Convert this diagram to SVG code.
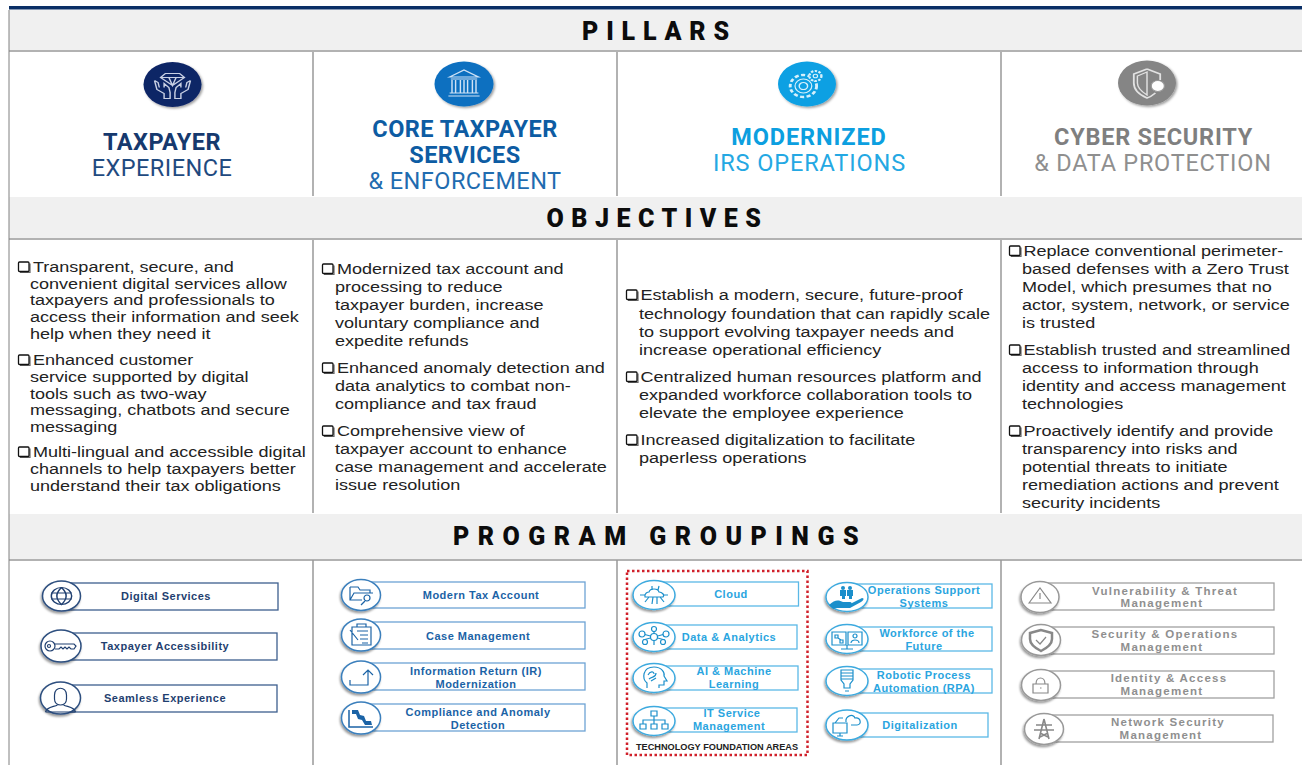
<svg xmlns="http://www.w3.org/2000/svg" width="1302" height="765" viewBox="0 0 1302 765">
<defs>
<filter id="sh" x="-20%" y="-20%" width="150%" height="150%"><feDropShadow dx="1.500" dy="1.500" stdDeviation="1" flood-color="#000" flood-opacity=".38"/></filter>
<filter id="sl" x="-25%" y="-25%" width="150%" height="150%"><feDropShadow dx="-1" dy="2" stdDeviation="1.200" flood-color="#000" flood-opacity=".4"/></filter>
<g id="b"><path d="M1.500 10.500H11.500V1.500" fill="none" stroke="#666" stroke-width="1.200"/><rect width="10.500" height="9.500" rx="1" fill="#fff" stroke="#111" stroke-width="1.300"/></g>
</defs>
<style>
text{font-family:"Liberation Sans",Arial,sans-serif}
.hd{font-family:Roboto,"Liberation Sans",sans-serif;font-weight:900;font-size:25px;text-anchor:middle;fill:#0c0c0c}
.band{fill:#f0f0f0}
.rule{stroke:#999;stroke-width:1.500;fill:none}
.pb{font-family:Roboto,"Liberation Sans",sans-serif;font-weight:700;font-size:23.500px;text-anchor:middle}
.pl{font-family:Roboto,"Liberation Sans",sans-serif;font-size:23.500px;text-anchor:middle}
.s1{letter-spacing:.45px}.s2{letter-spacing:.45px}.s3{letter-spacing:.9px}.s4{letter-spacing:.75px}
.ob{font-size:15.500px;fill:#222}
.pt{font-weight:700;font-size:11px;text-anchor:middle;letter-spacing:.5px}
.g .pt{font-size:11.500px;letter-spacing:1.250px}
.box{fill:#fff;stroke-width:1.300}
.circ{fill:#fff;stroke-width:1.500;filter:url(#sl)}
.i{fill:none;stroke-width:1.200}
.a{stroke:#3d5f8e}.b{stroke:#6da3d4}.c{stroke:#5bb8e6}.d{stroke:#a0a0a0}
.ca{stroke:#2d4f7f}.cb{stroke:#3b7fbc}.cc{stroke:#3eaadf}.cd{stroke:#999}
.ia{stroke:#1f3f70}.ib{stroke:#1b63a6}.ic{stroke:#1b8fcb}.id{stroke:#888}
.t1{fill:#1f3f70}.t2{fill:#1b63a6}.t3{fill:#2aa5e0}.t4{fill:#8f8f8f}
</style>
<g id="frame">
<rect x="9" y="6" width="1293" height="3.500" fill="#0a2f66"/>
<rect class="band" x="9" y="10" width="1293" height="40"/>
<rect class="band" x="9" y="197" width="1293" height="41"/>
<rect class="band" x="9" y="514" width="1293" height="45"/>
<path class="rule" d="M9 51H1302M9 239H1302M9 560H1302M313 52V196M617 52V196M1001 52V196M313 240V513M617 240V513M1001 240V513M313 560V765M617 560V765M1001 560V765"/>
<path d="M9 10V765" stroke="#808080" stroke-width="1" fill="none"/>
</g>
<g id="headers">
<text class="hd" x="659.500" y="40" letter-spacing="7.800">PILLARS</text>
<text class="hd" x="657.500" y="227" letter-spacing="7.500">OBJECTIVES</text>
<text class="hd" x="660" y="545" letter-spacing="8.500">PROGRAM GROUPINGS</text>
</g>
<g id="pillar-taxpayer">
<ellipse cx="172.500" cy="84.500" rx="29" ry="22.500" fill="#0c2566" filter="url(#sh)"/>
<g transform="translate(172.500 84.500) scale(1.200 1)" fill="none" stroke="#c8d0e4" stroke-width="1.200">
<path d="M-6-11H6L10-7 0 1-10-7ZM-10-7H10M-3-7 0 1 3-7"/>
<path d="M-15-4-13 5-7 9V14H-2V8L-3 3-7-1-7 3M-15-4-12-2-11 3"/>
<path d="M15-4 13 5 7 9V14H2V8L3 3 7-1 7 3M15-4 12-2 11 3"/>
</g>
<text class="pb s1" x="162" y="150" fill="#16396e">TAXPAYER</text>
<text class="pl s1" x="162" y="176" fill="#1f4a80">EXPERIENCE</text>
</g>
<g id="pillar-core">
<ellipse cx="464" cy="84" rx="29.500" ry="22.500" fill="#0f6fc0" filter="url(#sh)"/>
<g transform="translate(464 84) scale(1.200 1)" fill="none" stroke="#cfe2f5" stroke-width="1.200">
<path d="M-12-7 0-14 12-7ZM-11-5H11M-10-4V9M-7-4V9M-3-4V9M0-4V9M3-4V9M7-4V9M10-4V9M-12 9H12M-13 12H13"/>
</g>
<text class="pb s2" x="465" y="137" fill="#0d5ca3">CORE TAXPAYER</text>
<text class="pb s2" x="465" y="163" fill="#0d5ca3">SERVICES</text>
<text class="pl s2" x="465" y="189" fill="#1f6cb0">&amp; ENFORCEMENT</text>
</g>
<g id="pillar-modern">
<ellipse cx="807" cy="84" rx="29" ry="22.500" fill="#0fa0e3" filter="url(#sh)"/>
<g transform="translate(807 84) scale(1.200 1)" fill="none" stroke="#d6f0fb">
<circle cx="-3" cy="2" r="11" stroke-width="2.400" stroke-dasharray="3.500 2"/>
<circle cx="-3" cy="2" r="7" stroke-width="1"/>
<circle cx="-3" cy="2" r="3.500" stroke-width="1.200"/>
<circle cx="7" cy="-8" r="5" fill="#0fa0e3" stroke-width="2" stroke-dasharray="2 1.200"/>
<circle cx="7" cy="-8" r="1.800" stroke-width="1"/>
</g>
<text class="pb s3" x="809" y="145" fill="#0c9fe0">MODERNIZED</text>
<text class="pl s3" x="809.500" y="171" fill="#24a8e3">IRS OPERATIONS</text>
</g>
<g id="pillar-cyber">
<ellipse cx="1147" cy="83" rx="29" ry="22.500" fill="#858585" filter="url(#sh)"/>
<g transform="translate(1147 83) scale(1.200 1)">
<path d="M0-14-11-9V0C-11 7-6 12 0 15 3 14 5 12 7 10M0-14 11-9V-3" fill="none" stroke="#e2e2e2" stroke-width="1.500"/>
<path d="M0-11-8-7V0C-8 5-4 9 0 12Z" fill="none" stroke="#e2e2e2" stroke-width="1.200"/>
<circle cx="9" cy="3" r="5.500" fill="#fff" stroke="#999"/>
</g>
<text class="pb s4" x="1153.500" y="145" fill="#7f7f7f">CYBER SECURITY</text>
<text class="pl s4" x="1153" y="171" fill="#8f8f8f">&amp; DATA PROTECTION</text>
</g>
<g id="objectives-taxpayer">
<use href="#b" x="18.500" y="262"/><use href="#b" x="18.500" y="355"/><use href="#b" x="18.500" y="447"/>
<g transform="translate(30 0) scale(1.165 1)">
<text class="ob" x="2.500" y="272">Transparent, secure, and</text>
<text class="ob" x="0" y="289">convenient digital services allow</text>
<text class="ob" x="0" y="305">taxpayers and professionals to</text>
<text class="ob" x="0" y="322">access their information and seek</text>
<text class="ob" x="0" y="339">help when they need it</text>
<text class="ob" x="2.500" y="365">Enhanced customer</text>
<text class="ob" x="0" y="382">service supported by digital</text>
<text class="ob" x="0" y="399">tools such as two-way</text>
<text class="ob" x="0" y="415">messaging, chatbots and secure</text>
<text class="ob" x="0" y="432">messaging</text>
<text class="ob" x="2.500" y="457">Multi-lingual and accessible digital</text>
<text class="ob" x="0" y="474">channels to help taxpayers better</text>
<text class="ob" x="0" y="491">understand their tax obligations</text>
</g>
</g>
<g id="objectives-core">
<use href="#b" x="322.500" y="264"/><use href="#b" x="322.500" y="363"/><use href="#b" x="322.500" y="426"/>
<g transform="translate(335 0) scale(1.165 1)">
<text class="ob" x="1.700" y="274">Modernized tax account and</text>
<text class="ob" x="0" y="292">processing to reduce</text>
<text class="ob" x="0" y="310">taxpayer burden, increase</text>
<text class="ob" x="0" y="328">voluntary compliance and</text>
<text class="ob" x="0" y="346">expedite refunds</text>
<text class="ob" x="1.700" y="373">Enhanced anomaly detection and</text>
<text class="ob" x="0" y="391">data analytics to combat non-</text>
<text class="ob" x="0" y="409">compliance and tax fraud</text>
<text class="ob" x="1.700" y="436">Comprehensive view of</text>
<text class="ob" x="0" y="454">taxpayer account to enhance</text>
<text class="ob" x="0" y="472">case management and accelerate</text>
<text class="ob" x="0" y="490">issue resolution</text>
</g>
</g>
<g id="objectives-modern">
<use href="#b" x="626.500" y="290"/><use href="#b" x="626.500" y="372"/><use href="#b" x="626.500" y="435"/>
<g transform="translate(639 0) scale(1.165 1)">
<text class="ob" x="1.300" y="300">Establish a modern, secure, future-proof</text>
<text class="ob" x="0" y="319">technology foundation that can rapidly scale</text>
<text class="ob" x="0" y="337">to support evolving taxpayer needs and</text>
<text class="ob" x="0" y="355">increase operational efficiency</text>
<text class="ob" x="1.300" y="382">Centralized human resources platform and</text>
<text class="ob" x="0" y="400">expanded workforce collaboration tools to</text>
<text class="ob" x="0" y="418">elevate the employee experience</text>
<text class="ob" x="1.300" y="445">Increased digitalization to facilitate</text>
<text class="ob" x="0" y="463">paperless operations</text>
</g>
</g>
<g id="objectives-cyber">
<use href="#b" x="1009.500" y="246"/><use href="#b" x="1009.500" y="345"/><use href="#b" x="1009.500" y="426"/>
<g transform="translate(1022 0) scale(1.165 1)">
<text class="ob" x="1.300" y="256">Replace conventional perimeter-</text>
<text class="ob" x="0" y="274">based defenses with a Zero Trust</text>
<text class="ob" x="0" y="292">Model, which presumes that no</text>
<text class="ob" x="0" y="310">actor, system, network, or service</text>
<text class="ob" x="0" y="328">is trusted</text>
<text class="ob" x="1.300" y="355">Establish trusted and streamlined</text>
<text class="ob" x="0" y="373">access to information through</text>
<text class="ob" x="0" y="391">identity and access management</text>
<text class="ob" x="0" y="409">technologies</text>
<text class="ob" x="1.300" y="436">Proactively identify and provide</text>
<text class="ob" x="0" y="454">transparency into risks and</text>
<text class="ob" x="0" y="472">potential threats to initiate</text>
<text class="ob" x="0" y="490">remediation actions and prevent</text>
<text class="ob" x="0" y="508">security incidents</text>
</g>
</g>
<g id="programs-taxpayer">
<g id="p-digital"><rect class="box a" x="60" y="583" width="218" height="27"/><ellipse class="circ ca" cx="61.500" cy="596" rx="19" ry="15"/><g class="i ia" transform="translate(61.500 596) scale(1.200 1)"><circle r="8.500"/><path d="M-8.500-3H8.500M-8.500 3H8.500M0-8.500C-5-3-5 3 0 8.500 5 3 5-3 0-8.500"/></g><text class="pt t1" x="166" y="600">Digital Services</text></g>
<g id="p-access"><rect class="box a" x="60" y="633" width="217" height="27"/><ellipse class="circ ca" cx="61" cy="646" rx="20" ry="16"/><g class="i ia" transform="translate(61 646)" stroke-width="1.500"><circle cx="-11" cy="0" r="5"/><circle cx="-12" cy="0" r="1.500"/><path d="M-6-2H13L15 0 13 3H10L8 1 6 3 4 1 2 3 0 1-2 3H-6"/></g><text class="pt t1" x="165" y="650">Taxpayer Accessibility</text></g>
<g id="p-seamless"><rect class="box a" x="60" y="685" width="217" height="27"/><ellipse class="circ ca" cx="60.500" cy="698" rx="20" ry="16"/><g class="i ia" transform="translate(60.500 698)" stroke-width="1.500"><path d="M-6-3C-6-12 6-12 6-3V1C6 5 3 7 0 7S-6 5-6 1Z"/><path d="M-15 14C-14 9-7 9-3 7M15 14C14 9 7 9 3 7M-15 14H15"/></g><text class="pt t1" x="165" y="702">Seamless Experience</text></g>
</g>
<g id="programs-core">
<g id="p-modern-tax"><rect class="box b" x="361" y="582" width="224" height="26"/><ellipse class="circ cb" cx="361" cy="595" rx="19.500" ry="15.500"/><g class="i ib" transform="translate(361 595)"><path d="M-11-8H-3L-1-5H9V-2M-11-8V5H1M-11 5-7-2H12"/><circle cx="6" cy="3" r="3"/><path d="M4 6 0 10"/></g><text class="pt t2" x="481" y="599">Modern Tax Account</text></g>
<g id="p-case"><rect class="box b" x="361" y="622" width="224" height="27"/><ellipse class="circ cb" cx="361" cy="635" rx="19.500" ry="16"/><g class="i ib" transform="translate(361 635)"><path d="M-9-8H10V10H-9ZM-4-8V-11H5V-8M-4-4H7M-1 0H7M-1 4H7M1 8H7M-11-5-3 5"/></g><text class="pt t2" x="478" y="640">Case Management</text></g>
<g id="p-ir"><rect class="box b" x="361" y="663" width="224" height="27"/><ellipse class="circ cb" cx="361" cy="677" rx="19.500" ry="16"/><g class="i ib" transform="translate(361 677)" stroke-width="1.500"><path d="M-11 3V8H7V-7M2-2 7-7 12-2"/></g><text class="pt t2" x="476" y="675">Information Return (IR)</text><text class="pt t2" x="476" y="688">Modernization</text></g>
<g id="p-compliance"><rect class="box b" x="361" y="704" width="224" height="27"/><ellipse class="circ cb" cx="361" cy="718" rx="19.500" ry="16"/><g transform="translate(361 718)"><path d="M-12-8V9H12" fill="none" stroke="#1b63a6" stroke-width="1.500"/><path d="M-9-8H-3L-1-3 3-2 5 3H10L11 7H4L1 2-3 1-5-4-9-4Z" fill="#1b63a6"/></g><text class="pt t2" x="478" y="716">Compliance and Anomaly</text><text class="pt t2" x="478" y="729">Detection</text></g>
</g>
<g id="programs-modern">
<rect id="tech-foundation" x="627" y="571" width="180.500" height="184" fill="none" stroke="#d0202a" stroke-width="2.500" stroke-dasharray="2.500 2.500"/>
<g id="p-cloud"><rect class="box c" x="660" y="582" width="138.500" height="24"/><ellipse class="circ cc" cx="654" cy="595" rx="21" ry="14.500"/><g class="i ic" transform="translate(654 595)"><path d="M-9 2C-10-2-6-3-5-3-4-7 4-7 5-3 8-3 11 0 9 2ZM-5 2-9 7M-1 2-2 9M3 2 3 9M6 2 10 7M-2-5-2-9M4-5 5-9M-9 0H-14M9 0H14"/></g><text class="pt t3" x="731" y="598">Cloud</text></g>
<g id="p-data"><rect class="box c" x="660" y="625" width="137" height="24"/><ellipse class="circ cc" cx="654" cy="637" rx="21" ry="14.500"/><g class="i ic" transform="translate(654 637)"><path d="M0-8V8M-11-3 11 3M11-3-11 3"/><circle r="3.500" fill="#fff"/><circle cy="-8" r="2.500" fill="#fff"/><circle cx="-12" cy="-3" r="3" fill="#fff"/><circle cx="12" cy="-3" r="3" fill="#fff"/><circle cx="-9" cy="5" r="2.500" fill="#fff"/><circle cx="9" cy="5" r="2.500" fill="#fff"/></g><text class="pt t3" x="729" y="641">Data &amp; Analytics</text></g>
<g id="p-ai"><rect class="box c" x="660" y="666" width="138" height="24"/><ellipse class="circ cc" cx="654" cy="678" rx="21" ry="14.500"/><g class="i ic" transform="translate(654 678)" stroke-width="1.300"><path d="M-7 10V5C-12 1-12-11 0-11 8-11 11-5 10-2L13 3H10V7H5V10"/><path d="M-6-3C-4-7 0-7 0-4M-5 1C-2-2 2 0 2-5M-3 3 2 0"/></g><text class="pt t3" x="734" y="675">AI &amp; Machine</text><text class="pt t3" x="734" y="688">Learning</text></g>
<g id="p-it"><rect class="box c" x="660" y="708" width="137" height="24"/><ellipse class="circ cc" cx="654" cy="721" rx="21" ry="14.500"/><g class="i ic" transform="translate(654 721)"><path d="M-3-10H3V-5H-3ZM-14 3H-8V8H-14ZM-3 3H3V8H-3ZM8 3H14V8H8ZM0-5V3M-11 3V-1H11V3"/></g><text class="pt t3" x="732" y="717">IT Service</text><text class="pt t3" x="729" y="730">Management</text></g>
<text x="717" y="750" font-weight="700" font-size="9.200" text-anchor="middle" fill="#222">TECHNOLOGY FOUNDATION AREAS</text>
<g id="p-ops"><rect class="box c" x="850" y="584" width="142" height="24"/><ellipse class="circ cc" cx="847" cy="597" rx="21" ry="14.500"/><g transform="translate(847 597)" fill="#1b8fcb"><circle cx="-4" cy="-9" r="2"/><circle cx="3" cy="-9" r="2"/><path d="M-7-7H-1V-1H-2V2H-5V-1H-7ZM0-7H6V-1H5V2H2V-1H0Z"/><path d="M-18 8C-12 2-8 3-4 5H3C5 5 5 7 3 7H-1 3L15 1C18 1 16 4 14 5L3 11H-10L-14 12Z"/></g><text class="pt t3" x="924" y="594">Operations Support</text><text class="pt t3" x="924" y="607">Systems</text></g>
<g id="p-work"><rect class="box c" x="850" y="627" width="142" height="24"/><ellipse class="circ cc" cx="847" cy="639" rx="21" ry="14.500"/><g class="i ic" transform="translate(847 639)"><path d="M-15-7H-1V6H-15ZM1-7H15V6H1ZM0 6V10M-6 10H6M-12-4H-9V-1H-12ZM-7 1H-4V4H-7ZM-9-1-6 1"/><circle cx="8" cy="-3" r="2"/><path d="M4 4C4 0 12 0 12 4"/></g><text class="pt t3" x="927" y="637">Workforce of the</text><text class="pt t3" x="924" y="650">Future</text></g>
<g id="p-rpa"><rect class="box c" x="850" y="669" width="142" height="24"/><ellipse class="circ cc" cx="847" cy="681" rx="21" ry="14.500"/><g class="i ic" transform="translate(847 681)"><path d="M-6-11H6V-1L3 3V7H-3V3L-6-1ZM-6-8H6M-6-5H6M-6-2H6M-2 10H2"/></g><text class="pt t3" x="924" y="679">Robotic Process</text><text class="pt t3" x="924" y="692">Automation (RPA)</text></g>
<g id="p-digitalization"><rect class="box c" x="850" y="713" width="138" height="24"/><ellipse class="circ cc" cx="847" cy="725" rx="21" ry="15"/><g class="i ic" transform="translate(847 725)" stroke-width="1.300"><path d="M-14-2H0V8H-14ZM-10 11H-4M-7 8V11M-1-3C-2-9 6-12 8-7 14-8 15 0 10 0H4M-12-2-8-7H-4"/></g><text class="pt t3" x="920" y="729">Digitalization</text></g>
</g>
<g id="programs-cyber" class="g">
<g id="p-vuln"><rect class="box d" x="1045" y="583" width="229" height="27"/><ellipse class="circ cd" cx="1040" cy="597" rx="19" ry="15.500"/><path class="i id" d="M1029 603 1040 588 1051 603ZM1040 593V599"/><text class="pt t4" x="1165" y="595">Vulnerability &amp; Threat</text><text class="pt t4" x="1162" y="607">Management</text></g>
<g id="p-secops"><rect class="box d" x="1045" y="627" width="229" height="27"/><ellipse class="circ cd" cx="1041" cy="640" rx="19.500" ry="15.500"/><path d="M1041 630 1030 633V639C1030 644 1035 648 1041 651 1047 648 1052 644 1052 639V633Z" fill="none" stroke="#888" stroke-width="2.500"/><path class="i id" d="M1036 640 1040 644 1046 637"/><text class="pt t4" x="1165" y="638">Security &amp; Operations</text><text class="pt t4" x="1162" y="651">Management</text></g>
<g id="p-iam"><rect class="box d" x="1045" y="671" width="229" height="27"/><ellipse class="circ cd" cx="1041" cy="685" rx="19.500" ry="15.500"/><path class="i id" d="M1033 684H1048V693H1033ZM1036 684C1036 676 1045 676 1045 684M1040 688H1041.500"/><text class="pt t4" x="1169" y="682">Identity &amp; Access</text><text class="pt t4" x="1162" y="695">Management</text></g>
<g id="p-net"><rect class="box d" x="1050" y="715" width="223" height="27"/><ellipse class="circ cd" cx="1044" cy="729" rx="19.500" ry="15.500"/><path d="M1044 719 1039 739M1044 719 1049 739M1036 725H1052M1034 730H1054M1040 733 1048 737M1048 733 1040 737" fill="none" stroke="#888" stroke-width="1.600"/><text class="pt t4" x="1168" y="726">Network Security</text><text class="pt t4" x="1161" y="739">Management</text></g>
</g>
</svg>
